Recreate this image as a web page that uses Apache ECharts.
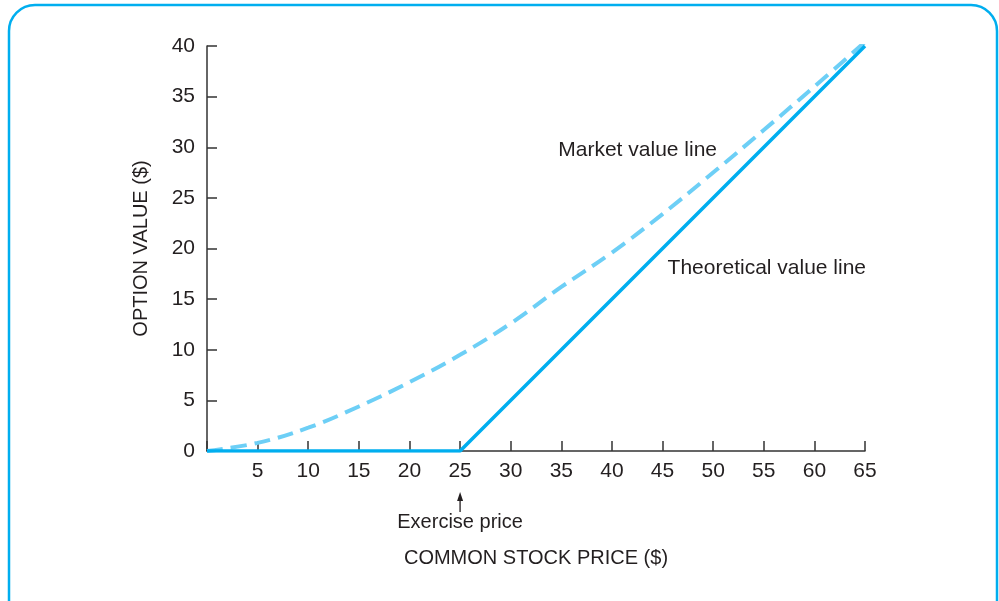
<!DOCTYPE html>
<html>
<head>
<meta charset="utf-8">
<script src="https://cdn.jsdelivr.net/npm/echarts@6/dist/echarts.min.js"></script>
<style>
html,body{margin:0;padding:0;background:#fff;}
#chart{width:999px;height:601px;}
</style>
</head>
<body>
<div id="chart"></div>
<script>
// Data
var stockPrice = [0, 5, 10, 15, 20, 25, 30, 35, 40, 45, 50, 55, 60, 65];
var marketValue = [0, 0.8, 2.3, 4.4, 6.8, 9.5, 12.6, 16.2, 19.6, 23.4, 27.5, 31.7, 36.0, 40.4];
var theoreticalX = [0, 25, 65];
var theoreticalY = [0, 0, 40];
var xTicks = [5, 10, 15, 20, 25, 30, 35, 40, 45, 50, 55, 60, 65];
var yTicks = [0, 5, 10, 15, 20, 25, 30, 35, 40];
var exercisePrice = 25;

var FONT = '"Liberation Sans", Arial, sans-serif';
var TEXT = '#231f20';

var chart = echarts.init(document.getElementById('chart'));

var marketData = stockPrice.map(function (x, i) { return [x, marketValue[i]]; });
var theoData = theoreticalX.map(function (x, i) { return [x, theoreticalY[i]]; });

chart.setOption({
  animation: false,
  backgroundColor: '#fff',
  grid: { left: 207, right: 134, top: 46, bottom: 150, containLabel: false },
  xAxis: {
    type: 'value', min: 0, max: 65, interval: 5,
    name: 'COMMON STOCK PRICE ($)', nameLocation: 'middle', nameGap: 97,
    nameTextStyle: { fontFamily: FONT, fontSize: 20, color: TEXT },
    axisLine: { show: true, lineStyle: { color: '#333', width: 1.5 } },
    axisTick: { show: true, inside: true, length: 10, lineStyle: { color: '#333', width: 1.5 } },
    axisLabel: {
      fontFamily: FONT, fontSize: 21, color: TEXT, margin: 10,
      formatter: function (v) { return xTicks.indexOf(v) >= 0 ? String(v) : ''; }
    },
    splitLine: { show: false }
  },
  yAxis: {
    type: 'value', min: 0, max: 40, interval: 5,
    name: 'OPTION VALUE ($)', nameLocation: 'middle', nameGap: 56,
    nameTextStyle: { fontFamily: FONT, fontSize: 20, color: TEXT },
    axisLine: { show: true, lineStyle: { color: '#333', width: 1.5 } },
    axisTick: { show: true, inside: true, length: 10, lineStyle: { color: '#333', width: 1.5 } },
    axisLabel: {
      fontFamily: FONT, fontSize: 21, color: TEXT, margin: 12,
      formatter: function (v) { return yTicks.indexOf(v) >= 0 ? String(v) : ''; }
    },
    splitLine: { show: false }
  },
  series: [
    {
      name: 'Market value line', type: 'line', data: marketData, smooth: 0.4,
      symbol: 'none', z: 2,
      lineStyle: { color: '#6dcff6', width: 4, type: [16, 8] }
    },
    {
      name: 'Theoretical value line', type: 'line', data: theoData,
      symbol: 'none', z: 3,
      lineStyle: { color: '#00aeef', width: 3.5 }
    }
  ]
});

function px(p) { return chart.convertToPixel({ gridIndex: 0 }, p); }
var mv = px([34.7, 29.7]);
var tv = px([45.5, 18.1]);
var ex = px([exercisePrice, 0]);

chart.setOption({
  graphic: [
    {
      type: 'rect', silent: true, z: 100,
      shape: { x: 9, y: 5, width: 988, height: 640, r: 26 },
      style: { fill: 'none', stroke: '#00aeef', lineWidth: 2.5 }
    },
    {
      type: 'text', x: mv[0], y: mv[1],
      style: { text: 'Market value line', fontFamily: FONT, fontSize: 21, fill: TEXT, verticalAlign: 'middle', align: 'left' }
    },
    {
      type: 'text', x: tv[0], y: tv[1],
      style: { text: 'Theoretical value line', fontFamily: FONT, fontSize: 21, fill: TEXT, verticalAlign: 'middle', align: 'left' }
    },
    {
      type: 'text', x: ex[0], y: ex[1] + 71,
      style: { text: 'Exercise price', fontFamily: FONT, fontSize: 20, fill: TEXT, verticalAlign: 'middle', align: 'center' }
    },
    {
      type: 'line', shape: { x1: ex[0], y1: ex[1] + 61, x2: ex[0], y2: ex[1] + 47 },
      style: { stroke: TEXT, lineWidth: 1.3 }
    },
    {
      type: 'polygon', shape: { points: [[ex[0], ex[1] + 41], [ex[0] - 3, ex[1] + 50], [ex[0] + 3, ex[1] + 50]] },
      style: { fill: TEXT }
    }
  ]
});
</script>
</body>
</html>
